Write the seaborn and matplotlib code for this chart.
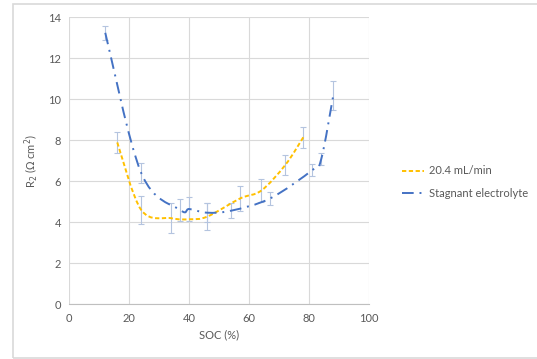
import numpy as np
import matplotlib
matplotlib.use("Agg")
import matplotlib.pyplot as plt
from matplotlib.path import Path
from matplotlib.patches import PathPatch, Rectangle
from matplotlib.lines import Line2D
import seaborn as sns

# data
soc_flow = [16, 24, 34, 40, 46, 57, 64, 72, 78]
r2_flow = [7.9, 4.6, 4.2, 4.15, 4.28, 5.17, 5.55, 6.8, 8.15]
err_flow = [0.53, 0.69, 0.72, 0.0, 0.67, 0.6, 0.57, 0.5, 0.52]

soc_stag = [12, 24, 37, 40, 46, 54, 67, 81, 84, 88]
r2_stag = [13.25, 6.4, 4.6, 4.65, 4.47, 4.57, 5.17, 6.55, 7.1, 10.2]
err_stag = [0.33, 0.49, 0.53, 0.57, 0.46, 0.38, 0.33, 0.28, 0.28, 0.72]

label_flow = "20.4 mL/min"
label_stag = "Stagnant electrolyte"

sns.set_style("white")
plt.rcParams["font.family"] = ["Lato", "DejaVu Sans"]

grey_txt = "#595959"
grid_col = "#d9d9d9"
err_col = "#b4c4df"
orange = "#FFC000"
blue = "#4472C4"
fs = 8


def smooth_path(xs, ys):
    # Excel-like smoothed line: cubic bezier through the points
    p = np.column_stack([xs, ys]).astype(float)
    n = len(p)
    verts = [p[0]]
    codes = [Path.MOVETO]
    for i in range(n - 1):
        p0 = p[i - 1] if i > 0 else p[i]
        p1 = p[i]
        p2 = p[i + 1]
        p3 = p[i + 2] if i + 2 < n else p[i + 1]
        c1 = p1 + (p2 - p0) / 6.0
        c2 = p2 - (p3 - p1) / 6.0
        verts += [c1, c2, p2]
        codes += [Path.CURVE4] * 3
    return Path(verts, codes)


def draw_err(ax, xs, ys, es):
    # only points that have an error value
    keep = [i for i in range(len(xs)) if es[i] > 0]
    ax.errorbar([xs[i] for i in keep], [ys[i] for i in keep],
                yerr=[es[i] for i in keep], fmt="none", ecolor=err_col,
                elinewidth=0.8, capsize=2.5, capthick=0.8, zorder=2)


fig = plt.figure(figsize=(5.37, 3.59), dpi=100)
ax = fig.add_axes([0.129, 0.1524, 0.5587, 0.799])

# border of the chart area
fig.patches.append(Rectangle((12.7 / 537, 1 / 359), 1.2, (355 - 1) / 359,
                             transform=fig.transFigure, fill=False,
                             edgecolor=grid_col, linewidth=1.2))

ax.set_xlim(0, 100)
ax.set_ylim(0, 14)
ax.set_xticks(np.arange(0, 101, 20))
ax.set_yticks(np.arange(0, 15, 2))
ax.grid(True, color=grid_col, linewidth=0.8)
ax.set_axisbelow(True)
for s in ["top", "right", "left"]:
    ax.spines[s].set_visible(False)
ax.spines["bottom"].set_color("#bfbfbf")
ax.spines["bottom"].set_linewidth(0.8)
ax.tick_params(axis="both", length=0, labelsize=fs, labelcolor=grey_txt, pad=6)

draw_err(ax, soc_flow, r2_flow, err_flow)
draw_err(ax, soc_stag, r2_stag, err_stag)

# smoothed curves
ax.add_patch(PathPatch(smooth_path(soc_flow, r2_flow), fill=False,
                       edgecolor=orange, linewidth=1.4,
                       linestyle=(0, (2.2, 1.3)), zorder=3))
ax.add_patch(PathPatch(smooth_path(soc_stag, r2_stag), fill=False,
                       edgecolor=blue, linewidth=1.4,
                       linestyle=(0, (6, 3, 1, 3)), zorder=3))

ax.set_xlabel("SOC (%)", fontsize=fs, color=grey_txt, labelpad=4)
ax.set_ylabel(r"R$_2$ ($\Omega$ cm$^2$)", fontsize=fs, color=grey_txt, labelpad=6)

handles = [
    Line2D([], [], color=orange, linewidth=1.4, linestyle=(0, (2.2, 1.3))),
    Line2D([], [], color=blue, linewidth=1.4, linestyle=(0, (6, 3, 1, 3))),
]
fig.legend(handles, [label_flow, label_stag], loc="center left",
           bbox_to_anchor=(392 / 537, 1 - 182 / 359), frameon=False,
           fontsize=fs, labelcolor=grey_txt, handlelength=2.0,
           handletextpad=0.4, labelspacing=1.0)

fig.savefig("out.png", dpi=100)
